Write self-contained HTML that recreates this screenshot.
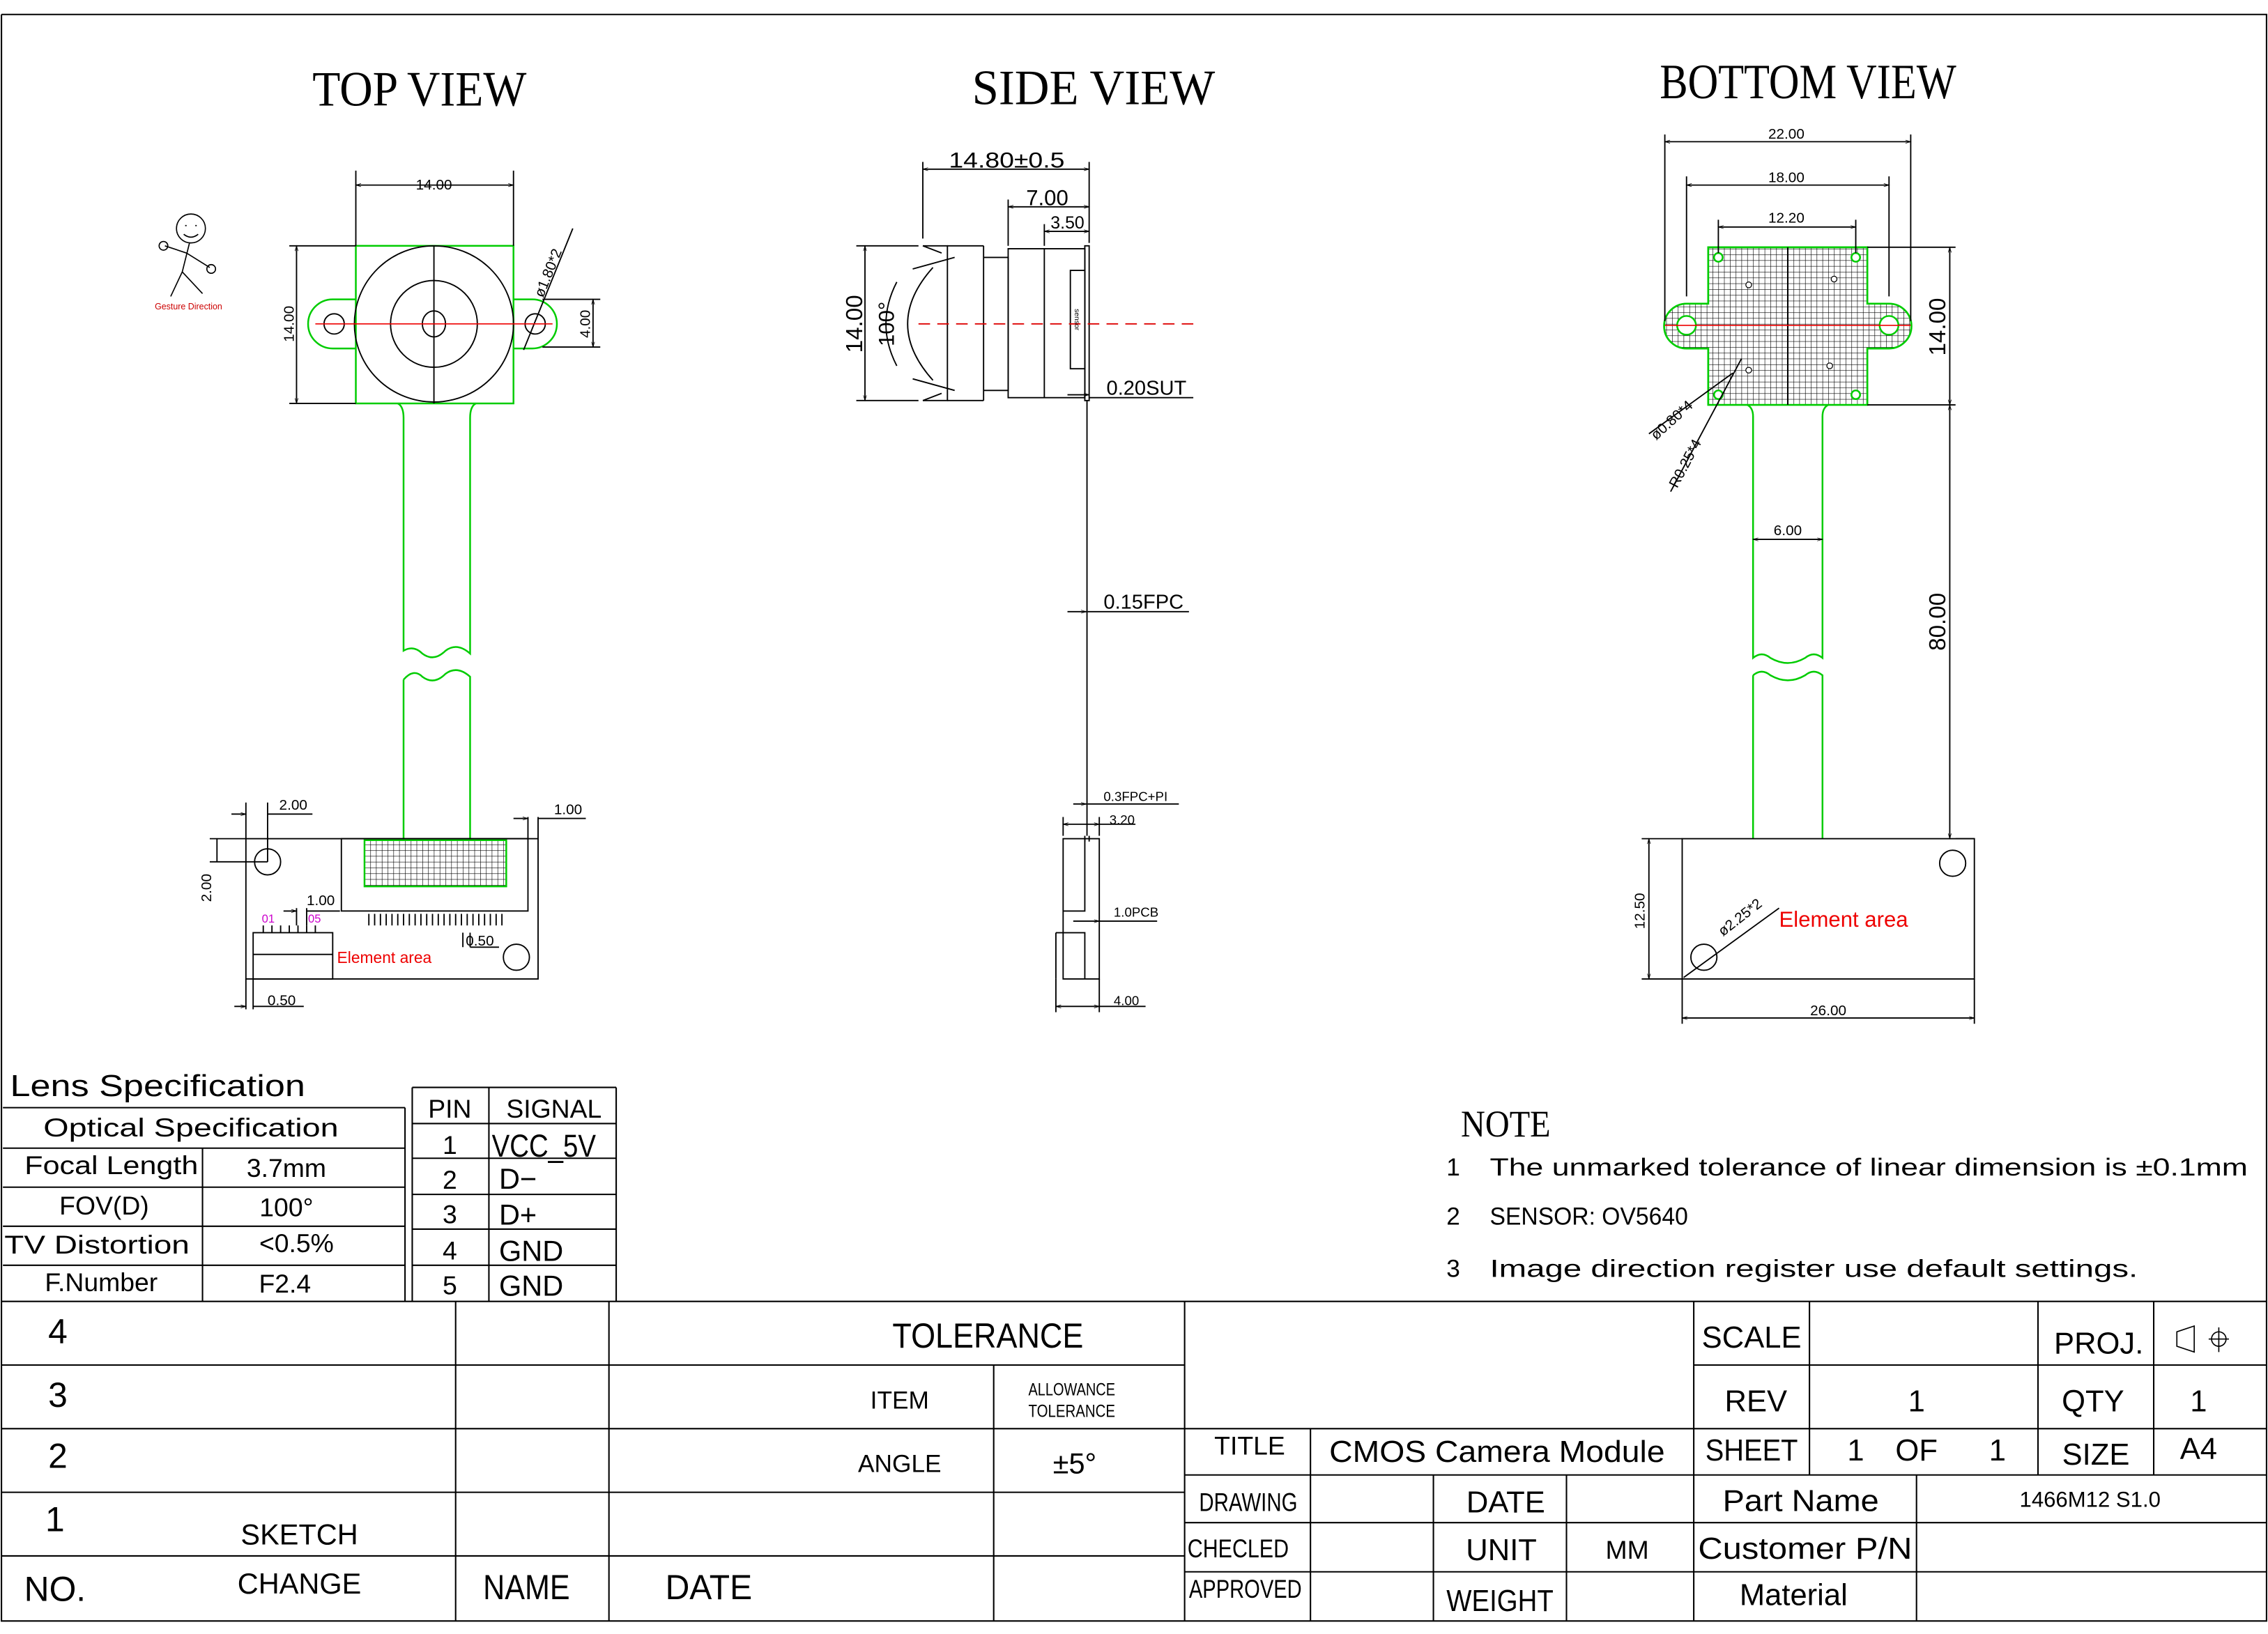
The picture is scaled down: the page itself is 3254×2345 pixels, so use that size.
<!DOCTYPE html>
<html><head><meta charset="utf-8"><style>
html,body{margin:0;padding:0;background:#fff}
svg{display:block}
text{font-family:"Liberation Sans Narrow","Liberation Sans",sans-serif;fill:#000}
.s{font-family:"Liberation Serif",serif}
</style></head><body>
<svg width="3254" height="2345" viewBox="0 0 1568 1130" xmlns="http://www.w3.org/2000/svg">
<defs>
<pattern id="h" width="4" height="4" patternUnits="userSpaceOnUse"><path d="M0 0H4M0 0V4" stroke="#000" stroke-width="0.6" fill="none"/></pattern>
<marker id="a" viewBox="0 0 10 10" refX="10" refY="5" markerWidth="6" markerHeight="4" orient="auto-start-reverse"><path d="M0 2L10 5L0 8" fill="none" stroke="#000" stroke-width="1"/></marker>
</defs>
<rect width="1568" height="1130" fill="#fff"/>
<g fill="none" stroke="#000" stroke-width="1">
<path d="M1 10H1567V1121H1V10"/>
</g>
<text x="290" y="73" font-size="34" text-anchor="middle" class="s" textLength="148" lengthAdjust="spacingAndGlyphs">TOP VIEW</text>
<text x="756" y="72" font-size="34" text-anchor="middle" class="s" textLength="168" lengthAdjust="spacingAndGlyphs">SIDE VIEW</text>
<text x="1250" y="68" font-size="34" text-anchor="middle" class="s" textLength="205" lengthAdjust="spacingAndGlyphs">BOTTOM VIEW</text>

<g fill="none" stroke="#000" stroke-width="0.8">
<circle cx="132" cy="158" r="10"/><path d="M128 156h1M135 156h1M127 162q5 4 10 0"/>
<path d="M131 168L126 188M126 188L118 205M126 188L140 203M129 175L114 170M129 175L145 185"/>
<circle cx="113" cy="170" r="3"/><circle cx="146" cy="186" r="3"/>
</g>
<text x="107" y="214" font-size="6" style="fill:#c00">Gesture Direction</text>

<g fill="none" stroke="#0c0" stroke-width="1.2">
<path d="M246 207H230A17 17 0 0 0 230 241H246"/>
<path d="M355 207H368A17 17 0 0 1 368 241H355"/>
<rect x="246" y="170" width="109" height="109"/>
<path d="M275 279Q279 281 279 289V450Q286 446 292 452Q300 458 308 450Q316 444 325 452V289Q325 281 329 279"/>
<path d="M279 470Q286 462 292 468Q300 474 308 466Q316 460 325 468V580M279 470V580"/>
<rect x="252" y="581" width="98" height="32" fill="url(#h)"/>
</g>
<g fill="none" stroke="#000" stroke-width="0.9">
<circle cx="231" cy="224" r="7"/><circle cx="370" cy="224" r="7"/>
<ellipse cx="300" cy="224" rx="55" ry="54"/><circle cx="300" cy="224" r="30"/><ellipse cx="300" cy="224" rx="8" ry="9"/>
<path d="M300 170V279"/>
<path d="M246 118V170M355 118V170"/><path d="M246 128H355" marker-start="url(#a)" marker-end="url(#a)"/>
<path d="M200 170H246M200 279H246"/><path d="M205 170V279" marker-start="url(#a)" marker-end="url(#a)"/>
<path d="M375 207H415M375 240H415"/><path d="M410 207V240" marker-start="url(#a)" marker-end="url(#a)"/>
<path d="M362 242L396 158"/>
<rect x="170" y="580" width="202" height="97"/>
<rect x="236" y="580" width="129" height="50"/>
<path d="M255 632V640M259 632V640M263 632V640M267 632V640M271 632V640M275 632V640M279 632V640M283 632V640M287 632V640M291 632V640M295 632V640M299 632V640M303 632V640M307 632V640M311 632V640M315 632V640M319 632V640M323 632V640M327 632V640M331 632V640M335 632V640M339 632V640M343 632V640M347 632V640"/>
<rect x="175" y="645" width="55" height="32"/><path d="M175 660H230"/>
<path d="M182 640V645M188 640V645M194 640V645M200 640V645M206 640V645M212 640V645M218 640V645"/>
<circle cx="185" cy="596" r="9"/><circle cx="357" cy="662" r="9"/>
<path d="M170 555V580M185 555V596"/><path d="M160 563H170" marker-end="url(#a)"/><path d="M185 563H216"/>
<path d="M145 580H170M145 596H185"/><path d="M150 580V596"/>
<path d="M365 565V580M372 565V580"/><path d="M355 566H365" marker-end="url(#a)"/><path d="M372 566H405"/>
<path d="M205 628V640M212 628V640"/><path d="M196 630H205" marker-end="url(#a)"/><path d="M212 630H235"/>
<path d="M320 645V655M325 645V655"/><path d="M325 655H345"/>
<path d="M170 677V698M175 677V698"/><path d="M162 696H170" marker-end="url(#a)"/><path d="M175 696H210"/>
</g>
<path d="M218 224H382" stroke="#e00" stroke-width="0.8"/>
<g font-size="10">
<text x="300" y="131" text-anchor="middle">14.00</text>
<text transform="translate(203 224) rotate(-90)" text-anchor="middle">14.00</text>
<text transform="translate(408 224) rotate(-90)" text-anchor="middle">4.00</text>
<text transform="translate(382 190) rotate(-68)" text-anchor="middle">ø1.80*2</text>
<text x="193" y="560">2.00</text><text x="383" y="563">1.00</text>
<text transform="translate(146 614) rotate(-90)" text-anchor="middle">2.00</text>
<text x="212" y="626">1.00</text><text x="322" y="654">0.50</text><text x="185" y="695">0.50</text>
<text x="181" y="638" font-size="8" style="fill:#c0c">01</text><text x="213" y="638" font-size="8" style="fill:#c0c">05</text>
<text x="233" y="666" font-size="11" style="fill:#e00">Element area</text>
</g>

<g fill="none" stroke="#000" stroke-width="0.9">
<path d="M638 170H655V277H638M655 170V277"/>
<path d="M638 170L651 175M638 277L651 272"/>
<path d="M660 178L631 186M660 270L631 262"/>
<path d="M645 185Q610 224 645 263"/>
<path d="M620 195Q605 224 620 253"/>
<path d="M680 170H655M680 277H655M680 170V277"/>
<path d="M680 178H697V270H680"/>
<rect x="697" y="172" width="53" height="103"/><path d="M722 172V275"/>
<rect x="740" y="187" width="10" height="68"/>
<rect x="750" y="170" width="3" height="107"/>
<path d="M751.5 277V578"/><path d="M750 578V582M753 578V582"/>
<rect x="735" y="580" width="25" height="97"/><path d="M735 630H750V580M730 645H750V677M730 645V677"/>
<path d="M638 112V165M753 112V168"/><path d="M638 117H753" marker-start="url(#a)" marker-end="url(#a)"/>
<path d="M697 138V170"/><path d="M697 143H753" marker-start="url(#a)" marker-end="url(#a)"/>
<path d="M722 155V170"/><path d="M722 160H753" marker-start="url(#a)" marker-end="url(#a)"/>
<path d="M592 170H635M592 277H635"/><path d="M598 170V277" marker-start="url(#a)" marker-end="url(#a)"/>
<path d="M738 273H753" marker-end="url(#a)"/><path d="M753 275H825"/>
<path d="M738 423H751" marker-end="url(#a)"/><path d="M752 423H822"/>
<path d="M742 556H751" marker-end="url(#a)"/><path d="M752 556H815"/>
<path d="M735 565V578M760 565V578"/><path d="M735 570H760" marker-start="url(#a)" marker-end="url(#a)"/><path d="M760 570H785"/>
<path d="M742 637H760" marker-end="url(#a)"/><path d="M760 637H800"/>
<path d="M730 677V700M760 677V700"/><path d="M730 696H760" marker-start="url(#a)" marker-end="url(#a)"/><path d="M760 696H792"/>
</g>
<path d="M635 224H830" stroke="#d00" stroke-width="0.9" stroke-dasharray="8 5"/>
<text x="696" y="116" font-size="15" text-anchor="middle" textLength="80" lengthAdjust="spacingAndGlyphs">14.80±0.5</text>
<text x="724" y="142" font-size="15" text-anchor="middle">7.00</text>
<text x="738" y="158" font-size="12" text-anchor="middle">3.50</text>
<text transform="translate(596 224) rotate(-90)" font-size="16" text-anchor="middle">14.00</text>
<text transform="translate(618 224) rotate(-90)" font-size="15" text-anchor="middle">100°</text>
<text transform="translate(743 221) rotate(90)" font-size="5" text-anchor="middle">sensor</text>
<text x="765" y="273" font-size="14">0.20SUT</text>
<text x="763" y="421" font-size="14">0.15FPC</text>
<text x="763" y="554" font-size="9">0.3FPC+PI</text>
<text x="767" y="570" font-size="9">3.20</text>
<text x="770" y="634" font-size="9">1.0PCB</text>
<text x="770" y="695" font-size="9">4.00</text>

<path d="M1181 171H1291V210H1306A15.5 15.5 0 0 1 1306 241H1291V280H1181V241H1166A15.5 15.5 0 0 1 1166 210H1181Z" fill="url(#h)" stroke="#0c0" stroke-width="1.3"/>
<g fill="#fff" stroke="#0c0" stroke-width="1.2">
<circle cx="1166" cy="225" r="6.5"/><circle cx="1306" cy="225" r="6.5"/>
<circle cx="1188" cy="178" r="3"/><circle cx="1283" cy="178" r="3"/><circle cx="1188" cy="273" r="3"/><circle cx="1283" cy="273" r="3"/>
</g>
<g fill="#fff" stroke="#000" stroke-width="0.6"><circle cx="1209" cy="197" r="2"/><circle cx="1268" cy="193" r="2"/><circle cx="1209" cy="256" r="2"/><circle cx="1265" cy="253" r="2"/></g>
<path d="M1236 171V280" stroke="#000" stroke-width="1"/>
<path d="M1151 225H1321" stroke="#e00" stroke-width="0.8"/>
<g fill="none" stroke="#0c0" stroke-width="1.2">
<path d="M1208 280Q1212 282 1212 288V455Q1218 450 1224 455Q1236 462 1248 455Q1254 450 1260 455V288Q1260 282 1264 280"/>
<path d="M1212 467Q1218 462 1224 467Q1236 474 1248 467Q1254 462 1260 467V580M1212 467V580"/>
</g>
<g fill="none" stroke="#000" stroke-width="0.9">
<path d="M1151 93V222M1321 93V222"/><path d="M1151 98H1321" marker-start="url(#a)" marker-end="url(#a)"/>
<path d="M1166 122V205M1306 122V205"/><path d="M1166 128H1306" marker-start="url(#a)" marker-end="url(#a)"/>
<path d="M1188 152V175M1283 152V175"/><path d="M1188 157H1283" marker-start="url(#a)" marker-end="url(#a)"/>
<path d="M1291 171H1352M1291 280H1352M1365 580H1352"/>
<path d="M1348 171V280" marker-start="url(#a)" marker-end="url(#a)"/>
<path d="M1348 280V580" marker-start="url(#a)" marker-end="url(#a)"/>
<path d="M1212 373H1260" marker-start="url(#a)" marker-end="url(#a)"/>
<rect x="1163" y="580" width="202" height="97"/>
<circle cx="1350" cy="597" r="9"/><circle cx="1178" cy="662" r="9"/>
<path d="M1135 580H1163M1135 677H1163"/><path d="M1140 580V677" marker-start="url(#a)" marker-end="url(#a)"/>
<path d="M1163 677V708M1365 677V708"/><path d="M1163 704H1365" marker-start="url(#a)" marker-end="url(#a)"/>
<path d="M1164 676L1230 628"/>
<path d="M1140 300L1198 258M1155 340L1204 248"/>
</g>
<g font-size="10">
<text x="1235" y="96" text-anchor="middle">22.00</text>
<text x="1235" y="126" text-anchor="middle">18.00</text>
<text x="1235" y="154" text-anchor="middle">12.20</text>
<text x="1236" y="370" text-anchor="middle">6.00</text>
<text x="1264" y="702" text-anchor="middle">26.00</text>
<text transform="translate(1137 630) rotate(-90)" text-anchor="middle">12.50</text>
<text transform="translate(1158 293) rotate(-42)" text-anchor="middle">ø0.80*4</text>
<text transform="translate(1168 322) rotate(-62)" text-anchor="middle">R0.25*4</text>
<text transform="translate(1205 637) rotate(-38)" text-anchor="middle">ø2.25*2</text>
</g>
<text transform="translate(1345 226) rotate(-90)" font-size="16" text-anchor="middle">14.00</text>
<text transform="translate(1345 430) rotate(-90)" font-size="16" text-anchor="middle">80.00</text>
<text x="1230" y="641" font-size="15" style="fill:#e00">Element area</text>

<text x="1010" y="786" font-size="26" class="s" textLength="62" lengthAdjust="spacingAndGlyphs">NOTE</text>
<g font-size="17">
<text x="1000" y="813">1</text><text x="1030" y="813" textLength="524" lengthAdjust="spacingAndGlyphs">The unmarked tolerance of linear dimension is ±0.1mm</text>
<text x="1000" y="847">2</text><text x="1030" y="847" textLength="137" lengthAdjust="spacingAndGlyphs">SENSOR: OV5640</text>
<text x="1000" y="883">3</text><text x="1030" y="883" textLength="448" lengthAdjust="spacingAndGlyphs">Image direction register use default settings.</text>
</g>

<text x="7" y="758" font-size="21" textLength="204" lengthAdjust="spacingAndGlyphs">Lens Specification</text>
<g fill="none" stroke="#000" stroke-width="1">
<path d="M2 766H280M2 794H280M2 821H280M2 848H280M2 875H280M280 766V900M140 794V900"/>
<path d="M285 752H426M285 777H426M285 801H426M285 826H426M285 850H426M285 875H426M285 752V900M338 752V900M426 752V900"/>
</g>
<g font-size="18">
<text x="132" y="786" text-anchor="middle" textLength="204" lengthAdjust="spacingAndGlyphs">Optical Specification</text>
<text x="77" y="812" text-anchor="middle" textLength="120" lengthAdjust="spacingAndGlyphs">Focal Length</text>
<text x="198" y="814" text-anchor="middle">3.7mm</text>
<text x="72" y="840" text-anchor="middle">FOV(D)</text>
<text x="198" y="841" text-anchor="middle">100°</text>
<text x="67" y="867" text-anchor="middle" textLength="128" lengthAdjust="spacingAndGlyphs">TV Distortion</text>
<text x="205" y="866" text-anchor="middle">&lt;0.5%</text>
<text x="70" y="893" text-anchor="middle">F.Number</text>
<text x="197" y="894" text-anchor="middle">F2.4</text>
<text x="311" y="773" text-anchor="middle">PIN</text><text x="383" y="773" text-anchor="middle">SIGNAL</text>
<text x="311" y="798" text-anchor="middle">1</text><text x="340" y="800" font-size="22" textLength="72" lengthAdjust="spacingAndGlyphs">VCC_5V</text>
<text x="311" y="822" text-anchor="middle">2</text><text x="345" y="822" font-size="20">D−</text>
<text x="311" y="846" text-anchor="middle">3</text><text x="345" y="847" font-size="20">D+</text>
<text x="311" y="871" text-anchor="middle">4</text><text x="345" y="872" font-size="20">GND</text>
<text x="311" y="895" text-anchor="middle">5</text><text x="345" y="896" font-size="20">GND</text>
</g>

<g fill="none" stroke="#000" stroke-width="1">
<path d="M1 900H1567M1 944H819M1 988H819M1 1032H819M1 1076H819"/>
<path d="M315 900V1121M421 900V1121M687 944V1121M819 900V1121"/>
<path d="M1171 944H1567M819 988H1567M819 1020H1567M819 1053H1567M819 1087H1567"/>
<path d="M1171 900V1121M1251 900V1020M1409 900V1020M1489 900V1020M906 988V1121M991 1020V1121M1083 1020V1121M1325 1020V1121"/>
</g>
<g font-size="24">
<text x="40" y="929" text-anchor="middle">4</text>
<text x="40" y="973" text-anchor="middle">3</text>
<text x="40" y="1015" text-anchor="middle">2</text>
<text x="38" y="1059" text-anchor="middle">1</text>
<text x="38" y="1107" text-anchor="middle">NO.</text>
<text x="207" y="1068" text-anchor="middle" font-size="20">SKETCH</text>
<text x="207" y="1102" text-anchor="middle" font-size="20">CHANGE</text>
<text x="364" y="1106" text-anchor="middle" textLength="60" lengthAdjust="spacingAndGlyphs">NAME</text>
<text x="490" y="1106" text-anchor="middle" textLength="60" lengthAdjust="spacingAndGlyphs">DATE</text>
<text x="683" y="932" text-anchor="middle" textLength="132" lengthAdjust="spacingAndGlyphs">TOLERANCE</text>
<text x="622" y="974" text-anchor="middle" font-size="17">ITEM</text>
<text x="741" y="965" text-anchor="middle" font-size="12" textLength="60" lengthAdjust="spacingAndGlyphs">ALLOWANCE</text>
<text x="741" y="980" text-anchor="middle" font-size="12" textLength="60" lengthAdjust="spacingAndGlyphs">TOLERANCE</text>
<text x="622" y="1018" text-anchor="middle" font-size="17">ANGLE</text>
<text x="743" y="1019" text-anchor="middle" font-size="20">±5°</text>
</g>
<g font-size="21">
<text x="1211" y="932" text-anchor="middle">SCALE</text>
<text x="1451" y="936" text-anchor="middle">PROJ.</text>
<text x="1214" y="976" text-anchor="middle">REV</text>
<text x="1325" y="976" text-anchor="middle">1</text>
<text x="1447" y="976" text-anchor="middle">QTY</text>
<text x="1520" y="976" text-anchor="middle">1</text>
<text x="864" y="1006" text-anchor="middle" font-size="18">TITLE</text>
<text x="1035" y="1011" text-anchor="middle" textLength="232" lengthAdjust="spacingAndGlyphs">CMOS  Camera Module</text>
<text x="1211" y="1010" text-anchor="middle" textLength="64" lengthAdjust="spacingAndGlyphs">SHEET</text>
<text x="1283" y="1010" text-anchor="middle">1</text><text x="1325" y="1010" text-anchor="middle">OF</text><text x="1381" y="1010" text-anchor="middle">1</text>
<text x="1449" y="1013" text-anchor="middle">SIZE</text>
<text x="1520" y="1009" text-anchor="middle">A4</text>
<text x="829" y="1045" font-size="18" textLength="68" lengthAdjust="spacingAndGlyphs">DRAWING</text>
<text x="1041" y="1046" text-anchor="middle">DATE</text>
<text x="1245" y="1045" text-anchor="middle" textLength="108" lengthAdjust="spacingAndGlyphs">Part Name</text>
<text x="1445" y="1042" text-anchor="middle" font-size="15">1466M12 S1.0</text>
<text x="821" y="1077" font-size="18" textLength="70" lengthAdjust="spacingAndGlyphs">CHECLED</text>
<text x="1038" y="1079" text-anchor="middle">UNIT</text>
<text x="1125" y="1078" text-anchor="middle" font-size="18">MM</text>
<text x="1248" y="1078" text-anchor="middle" textLength="148" lengthAdjust="spacingAndGlyphs">Customer P/N</text>
<text x="822" y="1105" font-size="18" textLength="78" lengthAdjust="spacingAndGlyphs">APPROVED</text>
<text x="1037" y="1114" text-anchor="middle" textLength="74" lengthAdjust="spacingAndGlyphs">WEIGHT</text>
<text x="1240" y="1110" text-anchor="middle">Material</text>
</g>
<g fill="none" stroke="#000" stroke-width="0.8">
<path d="M1505 921L1517 917V935L1505 931Z"/><circle cx="1534" cy="926" r="5"/><path d="M1534 918V935M1527 926H1541"/>
</g>
</svg>
</body></html>
